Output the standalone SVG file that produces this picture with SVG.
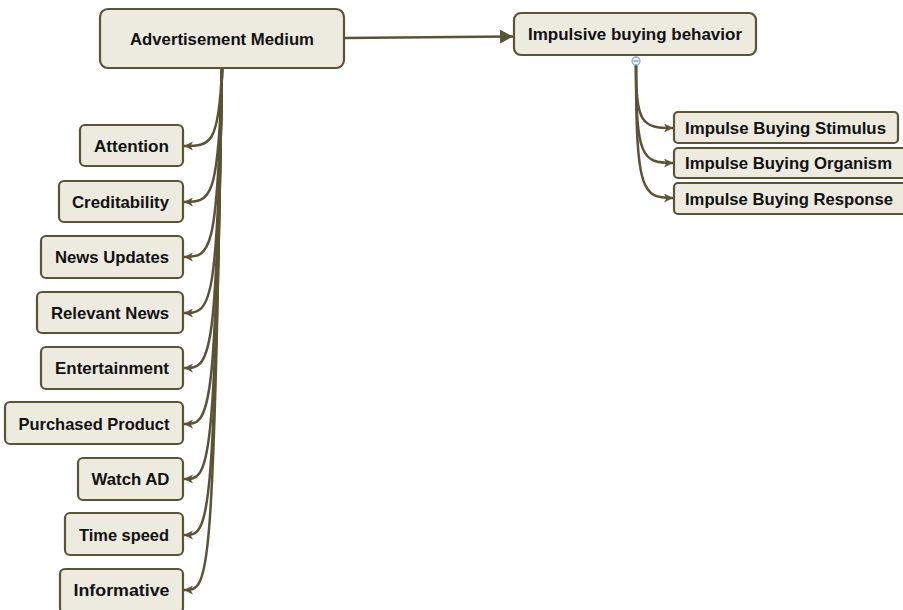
<svg xmlns="http://www.w3.org/2000/svg" width="903" height="610" viewBox="0 0 903 610">
<style>
.box{fill:#edeae0;stroke:#5a5338;stroke-width:2.2}
.t{font-family:"Liberation Sans",Arial,sans-serif;font-weight:bold;font-size:16.5px;fill:#111;text-anchor:middle}
.c{fill:none;stroke:#5a5338;stroke-width:2.5}
</style>
<defs>
<marker id="ah" markerUnits="userSpaceOnUse" markerWidth="12" markerHeight="12" refX="9" refY="4.5" orient="auto">
<path d="M0,0 L9,4.5 L0,9 L2.5,4.5 Z" fill="#5a5338"/>
</marker>
<marker id="big" markerUnits="userSpaceOnUse" markerWidth="16" markerHeight="16" refX="13" refY="7" orient="auto">
<path d="M0,0 L13,7 L0,14 Z" fill="#5a5338"/>
</marker>
</defs>
<rect width="903" height="610" fill="#ffffff"/>
<g id="connectors">
<path class="c" d="M344,38 L513,36.5" stroke-width="3" marker-end="url(#big)"/>
<path class="c" d="M222,68 C219,146 210,146 184,146" marker-end="url(#ah)"/>
<path class="c" d="M222,68 C219,202 210,202 184,202" marker-end="url(#ah)"/>
<path class="c" d="M222,68 C218,257 210,257 184,257" marker-end="url(#ah)"/>
<path class="c" d="M222,68 C218,313 210,313 184,313" marker-end="url(#ah)"/>
<path class="c" d="M222,68 C217,368 210,368 184,368" marker-end="url(#ah)"/>
<path class="c" d="M222,68 C216,424 210,424 184,424" marker-end="url(#ah)"/>
<path class="c" d="M222,68 C215,479 210,479 184,479" marker-end="url(#ah)"/>
<path class="c" d="M222,68 C214,535 210,535 184,535" marker-end="url(#ah)"/>
<path class="c" d="M222,68 C213,590 210,590 184,590" marker-end="url(#ah)"/>
<path class="c" d="M636,65 C636,124 642,128 673,128" marker-end="url(#ah)"/>
<path class="c" d="M636,65 C636,158 642,163 673,163" marker-end="url(#ah)"/>
<path class="c" d="M636,65 C636,192 642,198 673,198" marker-end="url(#ah)"/>
</g>
<g id="n-advertisement">
<rect class="box" x="100" y="9" width="244" height="59" rx="8"/>
<text class="t" x="222" y="45" textLength="184" lengthAdjust="spacingAndGlyphs">Advertisement Medium</text>
</g>
<g id="n-impulsive">
<rect class="box" x="514" y="13" width="242" height="42" rx="7"/>
<text class="t" x="635" y="40" textLength="214" lengthAdjust="spacingAndGlyphs">Impulsive buying behavior</text>
<circle cx="636" cy="61" r="4" fill="#eef2fa" stroke="#8aa6d0" stroke-width="1.3"/>
<line x1="633.5" y1="61" x2="638.5" y2="61" stroke="#6f8fc0" stroke-width="1.2"/>
</g>
<g id="n-stimulus">
<rect class="box" x="674" y="112" width="224" height="31" rx="4"/>
<text class="t" x="785.5" y="134" textLength="201" lengthAdjust="spacingAndGlyphs">Impulse Buying Stimulus</text>
</g>
<g id="n-organism">
<rect class="box" x="674" y="148" width="234" height="30" rx="4"/>
<text class="t" x="788.5" y="169" textLength="207" lengthAdjust="spacingAndGlyphs">Impulse Buying Organism</text>
</g>
<g id="n-response">
<rect class="box" x="674" y="183" width="234" height="31" rx="4"/>
<text class="t" x="789" y="205" textLength="208" lengthAdjust="spacingAndGlyphs">Impulse Buying Response</text>
</g>
<g id="n-attention">
<rect class="box" x="80" y="125" width="103" height="41" rx="5"/>
<text class="t" x="131.5" y="152" textLength="75" lengthAdjust="spacingAndGlyphs">Attention</text>
</g>
<g id="n-creditability">
<rect class="box" x="59" y="181" width="124" height="41" rx="5"/>
<text class="t" x="120.5" y="208" textLength="97" lengthAdjust="spacingAndGlyphs">Creditability</text>
</g>
<g id="n-newsupdates">
<rect class="box" x="41" y="236" width="142" height="42" rx="5"/>
<text class="t" x="112" y="263" textLength="114" lengthAdjust="spacingAndGlyphs">News Updates</text>
</g>
<g id="n-relevantnews">
<rect class="box" x="37" y="292" width="146" height="41" rx="5"/>
<text class="t" x="110" y="319" textLength="118" lengthAdjust="spacingAndGlyphs">Relevant News</text>
</g>
<g id="n-entertainment">
<rect class="box" x="41" y="347" width="142" height="42" rx="5"/>
<text class="t" x="112" y="374" textLength="114" lengthAdjust="spacingAndGlyphs">Entertainment</text>
</g>
<g id="n-purchased">
<rect class="box" x="5" y="402" width="178" height="42" rx="5"/>
<text class="t" x="94" y="430" textLength="151" lengthAdjust="spacingAndGlyphs">Purchased Product</text>
</g>
<g id="n-watchad">
<rect class="box" x="78" y="458" width="105" height="42" rx="5"/>
<text class="t" x="130.5" y="485" textLength="78" lengthAdjust="spacingAndGlyphs">Watch AD</text>
</g>
<g id="n-timespeed">
<rect class="box" x="65" y="513" width="118" height="42" rx="5"/>
<text class="t" x="124" y="541" textLength="90" lengthAdjust="spacingAndGlyphs">Time speed</text>
</g>
<g id="n-informative">
<rect class="box" x="60" y="569" width="123" height="44" rx="5"/>
<text class="t" x="121.5" y="596" textLength="96" lengthAdjust="spacingAndGlyphs">Informative</text>
</g>
</svg>
